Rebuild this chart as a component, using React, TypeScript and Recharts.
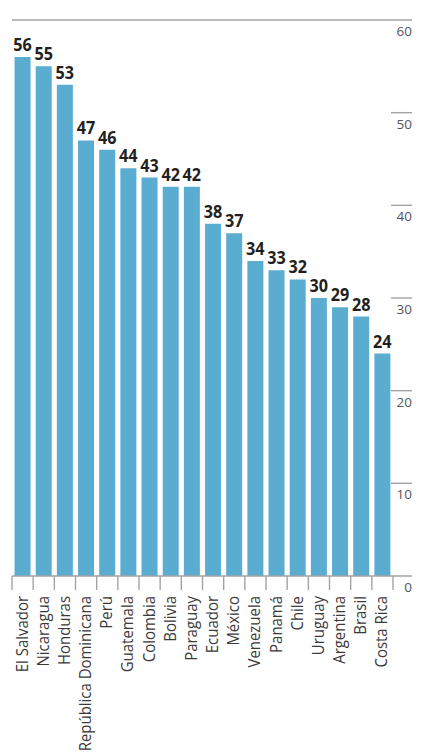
import { Bar, BarChart, LabelList, XAxis, YAxis } from "recharts";

const COUNTRIES = [
  "El Salvador",
  "Nicaragua",
  "Honduras",
  "República Dominicana",
  "Perú",
  "Guatemala",
  "Colombia",
  "Bolivia",
  "Paraguay",
  "Ecuador",
  "México",
  "Venezuela",
  "Panamá",
  "Chile",
  "Uruguay",
  "Argentina",
  "Brasil",
  "Costa Rica",
];
const VALUES = [56, 55, 53, 47, 46, 44, 43, 42, 42, 38, 37, 34, 33, 32, 30, 29, 28, 24];
const Y_TICKS = [0, 10, 20, 30, 40, 50, 60];

const WIDTH = 441;
const HEIGHT = 756;
const MARGIN = { top: 20, right: 0, bottom: 0, left: 12 };
const Y_AXIS_W = 48;
const X_AXIS_H = 180;
const PLOT_LEFT = MARGIN.left;
const PLOT_W = WIDTH - MARGIN.left - MARGIN.right - Y_AXIS_W;

const BAR = "#5aadd0";
const RULE = "#a3a3a3";
const INK = "#231f20";
const TEXT = "#3a3a3a";
const FONT = "'Open Sans', sans-serif";

const data = COUNTRIES.map((name, i) => ({ name, value: VALUES[i] }));

// right-hand scale: short rule above each number, full-width rule at 0 and 60
function ScaleTick(props: any) {
  const { x, y, payload } = props;
  const v = payload.value;
  const end = x + 19;
  const full = v === Y_TICKS[0] || v === Y_TICKS[Y_TICKS.length - 1];
  return (
    <g>
      <line x1={full ? PLOT_LEFT : x - 2} x2={end} y1={y} y2={y} stroke={RULE} strokeWidth={1.4} />
      <text x={end} y={y + 16} textAnchor="end" fill="#555" fontSize={13.5} fontFamily={FONT}>
        {v}
      </text>
    </g>
  );
}

// category ticks sit on the band edges, names run upward (narrowed a little)
function CountryTick(props: any) {
  const { x, y, payload, index } = props;
  const half = payload?.offset || PLOT_W / COUNTRIES.length / 2;
  const last = index === COUNTRIES.length - 1;
  return (
    <g>
      <line x1={x - half} x2={x - half} y1={y} y2={y + 14} stroke={RULE} strokeWidth={1.4} />
      {last && <line x1={x + half} x2={x + half} y1={y} y2={y + 14} stroke={RULE} strokeWidth={1.4} />}
      <text
        transform={`translate(${x + 5},${y + 20}) rotate(-90) scale(0.88,1)`}
        textAnchor="end"
        fill={TEXT}
        fontSize={17}
        fontFamily={FONT}
      >
        {payload.value}
      </text>
    </g>
  );
}

function ValueLabel(props: any) {
  const x = Number(props.x) + Number(props.width) / 2;
  const y = Number(props.y) - 6;
  return (
    <text
      transform={`translate(${x},${y}) scale(0.9,1)`}
      textAnchor="middle"
      fill={INK}
      fontSize={18}
      fontWeight={700}
      fontFamily={FONT}
    >
      {props.value}
    </text>
  );
}

export default function App() {
  return (
    <div style={{ position: "absolute", left: 0, top: 0, width: WIDTH, height: HEIGHT, background: "#fff" }}>
      <BarChart width={WIDTH} height={HEIGHT} data={data} margin={MARGIN} barCategoryGap="12%">
        <XAxis
          dataKey="name"
          interval={0}
          height={X_AXIS_H}
          axisLine={false}
          tickLine={false}
          tickSize={0}
          tickMargin={0}
          tick={<CountryTick />}
        />
        <YAxis
          orientation="right"
          domain={[0, 60]}
          ticks={Y_TICKS}
          interval={0}
          width={Y_AXIS_W}
          axisLine={false}
          tickLine={false}
          tickSize={0}
          tickMargin={0}
          tick={<ScaleTick />}
        />
        <Bar dataKey="value" fill={BAR} isAnimationActive={false}>
          <LabelList dataKey="value" content={<ValueLabel />} />
        </Bar>
      </BarChart>
    </div>
  );
}
